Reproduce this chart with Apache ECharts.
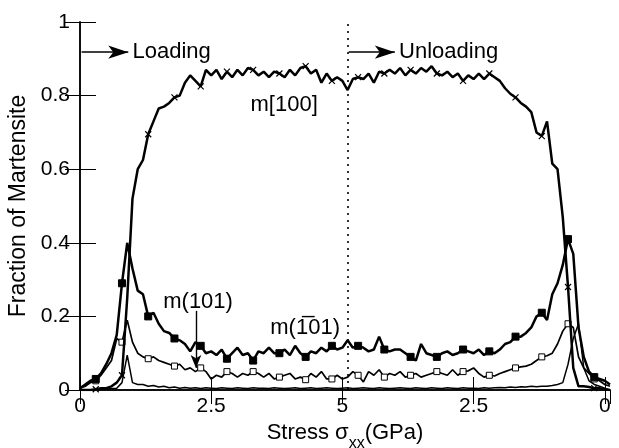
<!DOCTYPE html>
<html>
<head>
<meta charset="utf-8">
<script src="https://cdn.jsdelivr.net/npm/echarts@6/dist/echarts.min.js"></script>
<style>html,body{margin:0;padding:0;background:#fff}#c{width:619px;height:448px}</style>
</head>
<body>
<div id="c"></div>
<script>
// Stress axis: 0..5.1 loading, then 5.1..10.1 = unloading (5.1 -> 0 GPa)
const stress = [0.0,0.1,0.2,0.3,0.4,0.5,0.6,0.7,0.8,0.9,1.0,1.1,1.2,1.3,1.4,1.5,1.6,1.7,1.8,1.9,2.0,2.1,2.2,2.3,2.4,2.5,2.6,2.7,2.8,2.9,3.0,3.1,3.2,3.3,3.4,3.5,3.6,3.7,3.8,3.9,4.0,4.1,4.2,4.3,4.4,4.5,4.6,4.7,4.8,4.9,5.0,5.1,5.2,5.3,5.4,5.5,5.6,5.7,5.8,5.9,6.0,6.1,6.2,6.3,6.4,6.5,6.6,6.7,6.8,6.9,7.0,7.1,7.2,7.3,7.4,7.5,7.6,7.7,7.8,7.9,8.0,8.1,8.2,8.3,8.4,8.5,8.6,8.7,8.8,8.9,9.0,9.1,9.2,9.3,9.4,9.5,9.6,9.7,9.8,9.9,10.0,10.1];

const m100 = [0,0,0,0.002,0.005,0.005,0.01,0.02,0.04,0.25,0.52,0.6,0.625,0.695,0.73,0.765,0.77,0.78,0.795,0.8,0.835,0.855,0.84,0.825,0.87,0.855,0.87,0.845,0.865,0.85,0.87,0.855,0.875,0.87,0.855,0.865,0.85,0.865,0.86,0.85,0.87,0.855,0.875,0.88,0.86,0.87,0.835,0.86,0.84,0.85,0.84,0.815,0.845,0.85,0.845,0.86,0.835,0.865,0.86,0.87,0.86,0.875,0.855,0.87,0.86,0.875,0.865,0.88,0.86,0.855,0.865,0.85,0.86,0.84,0.855,0.845,0.86,0.845,0.86,0.85,0.84,0.82,0.805,0.795,0.78,0.77,0.755,0.7,0.69,0.73,0.615,0.6,0.47,0.28,0.06,0.01,0.01,0.008,0.005,0.005,0.002,0];

const mBar101 = [0.005,0.015,0.025,0.03,0.045,0.07,0.1,0.15,0.29,0.4,0.33,0.27,0.26,0.2,0.21,0.18,0.16,0.155,0.14,0.135,0.125,0.105,0.13,0.12,0.1,0.105,0.095,0.11,0.085,0.1,0.115,0.095,0.1,0.08,0.105,0.1,0.115,0.1,0.1,0.11,0.095,0.12,0.1,0.09,0.105,0.1,0.115,0.105,0.12,0.11,0.115,0.135,0.115,0.12,0.115,0.105,0.11,0.145,0.11,0.105,0.11,0.11,0.1,0.09,0.08,0.125,0.1,0.095,0.09,0.1,0.105,0.095,0.1,0.11,0.105,0.1,0.11,0.095,0.105,0.1,0.11,0.125,0.13,0.145,0.145,0.155,0.17,0.2,0.21,0.19,0.26,0.29,0.34,0.41,0.37,0.17,0.09,0.05,0.035,0.03,0.025,0.015];

const m101 = [0.005,0.01,0.02,0.025,0.04,0.06,0.08,0.14,0.13,0.19,0.13,0.1,0.09,0.085,0.09,0.08,0.075,0.07,0.065,0.07,0.055,0.06,0.05,0.06,0.05,0.03,0.04,0.035,0.05,0.045,0.035,0.045,0.04,0.05,0.045,0.035,0.045,0.03,0.035,0.04,0.045,0.03,0.035,0.028,0.045,0.035,0.05,0.03,0.03,0.04,0.03,0.035,0.05,0.04,0.022,0.05,0.04,0.055,0.035,0.045,0.04,0.05,0.035,0.04,0.045,0.035,0.04,0.045,0.05,0.045,0.04,0.055,0.04,0.05,0.052,0.06,0.045,0.035,0.04,0.038,0.045,0.05,0.055,0.06,0.063,0.065,0.07,0.08,0.09,0.093,0.1,0.125,0.16,0.18,0.17,0.09,0.06,0.045,0.03,0.025,0.015,0.01];

const mOther = [0,0,0,0,0.002,0.003,0.004,0.005,0.02,0.095,0.02,0.015,0.015,0.01,0.012,0.008,0.01,0.006,0.008,0.005,0.007,0.005,0.006,0.004,0.006,0.005,0.004,0.006,0.005,0.004,0.006,0.005,0.004,0.006,0.005,0.005,0.004,0.006,0.005,0.004,0.005,0.006,0.004,0.005,0.006,0.004,0.005,0.006,0.005,0.004,0.005,0.006,0.004,0.005,0.006,0.005,0.004,0.006,0.005,0.004,0.005,0.006,0.005,0.004,0.006,0.005,0.004,0.006,0.005,0.004,0.006,0.005,0.004,0.006,0.005,0.005,0.004,0.006,0.005,0.006,0.007,0.006,0.008,0.007,0.009,0.008,0.01,0.009,0.01,0.01,0.012,0.015,0.02,0.07,0.14,0.18,0.06,0.025,0.015,0.01,0.005,0];

// marker every 5th sample
const markerIdx = [3,8,13,18,23,28,33,38,43,48,53,58,63,68,73,78,83,88,93,98];

const xTicks = [0, 2.5, 5, 7.5, 10];
const xTickText = ['0', '2.5', '5', '2.5', '0'];
const yTicks = [0, 0.2, 0.4, 0.6, 0.8, 1];
const yTickText = ['0', '0.2', '0.4', '0.6', '0.8', '1'];

const FONT = 'Liberation Sans, Arial, Helvetica, sans-serif';
const pairs = ys => stress.map((x, i) => [x, ys[i]]);
const symFn = sym => (v, p) => markerIdx.indexOf(p.dataIndex) >= 0 ? sym : 'none';

const chart = echarts.init(document.getElementById('c'), null, {renderer: 'canvas'});
const txt = (x, y, s, align) => ({
  coord: [x, y], symbol: 'rect', symbolSize: 1, itemStyle: {color: 'rgba(0,0,0,0)'},
  label: {show: true, position: 'inside', formatter: s, color: '#000', fontSize: 22, fontFamily: FONT, align: align || 'center', verticalAlign: 'middle'}
});

chart.setOption({
  animation: false,
  backgroundColor: '#fff',
  grid: {left: 80, right: 9, top: 22, bottom: 58, containLabel: false, outerBoundsMode: 'none'},
  xAxis: [{
    type: 'value', min: 0, max: 10.1, interval: 2.5,
    position: 'bottom',
    axisLine: {show: true, lineStyle: {color: '#000', width: 1.5}},
    axisTick: {show: true, inside: true, length: 13, lineStyle: {color: '#000', width: 1}},
    axisLabel: {margin: 6, fontSize: 21, color: '#000', fontFamily: FONT, showMaxLabel: false,
      formatter: v => { const k = xTicks.indexOf(v); return k >= 0 ? xTickText[k] : ''; }},
    splitLine: {show: false},
    name: '{a|Stress σ}{b|xx}{a|(GPa)}',
    nameLocation: 'middle', nameGap: 27,
    nameTextStyle: {color: '#000', fontFamily: FONT, rich: {
      a: {fontSize: 22, fontFamily: FONT, color: '#000', lineHeight: 23, verticalAlign: 'top'},
      b: {fontSize: 16, fontFamily: FONT, color: '#000', lineHeight: 16, verticalAlign: 'top', padding: [14, 0, 0, 0]}
    }}
  }, {
    type: 'value', min: 0, max: 10.1, interval: 2.5, position: 'top',
    axisLine: {show: true, lineStyle: {color: '#000', width: 1.5}},
    axisTick: {show: true, inside: true, length: 14, lineStyle: {color: '#000', width: 1}},
    axisLabel: {show: false}, splitLine: {show: false}
  }],
  yAxis: [{
    type: 'value', min: 0, max: 1, interval: 0.2, position: 'left',
    axisLine: {show: true, lineStyle: {color: '#000', width: 1.5}},
    axisTick: {show: true, inside: true, length: 16, lineStyle: {color: '#000', width: 1}},
    axisLabel: {margin: 10, fontSize: 21, color: '#000', fontFamily: FONT,
      formatter: v => { const k = yTicks.findIndex(t => Math.abs(t - v) < 1e-9); return k >= 0 ? yTickText[k] : ''; }},
    splitLine: {show: false},
    name: 'Fraction of Martensite', nameLocation: 'middle', nameGap: 49,
    nameTextStyle: {fontSize: 23, color: '#000', fontFamily: FONT}
  }, {
    type: 'value', min: 0, max: 1, interval: 0.2, position: 'right',
    axisLine: {show: true, lineStyle: {color: '#000', width: 1.5}},
    axisTick: {show: true, inside: true, length: 15, lineStyle: {color: '#000', width: 1}},
    axisLabel: {show: false}, splitLine: {show: false}
  }],
  series: [
    {
      name: 'other', type: 'line', data: pairs(mOther), symbol: 'none', z: 2,
      lineStyle: {color: '#000', width: 1.5}
    },
    {
      name: 'm(101)', type: 'line', data: pairs(m101), z: 3,
      showAllSymbol: true, symbol: symFn('rect'), symbolSize: 6,
      itemStyle: {color: '#fff', borderColor: '#000', borderWidth: 1},
      lineStyle: {color: '#000', width: 1.7}
    },
    {
      name: 'm(-101)', type: 'line', data: pairs(mBar101), z: 4,
      showAllSymbol: true, symbol: symFn('rect'), symbolSize: 7,
      itemStyle: {color: '#000', borderColor: '#000', borderWidth: 1},
      lineStyle: {color: '#000', width: 2.5}
    },
    {
      name: 'm[100]', type: 'line', data: pairs(m100), z: 5,
      showAllSymbol: true, symbol: symFn('path://M0,0L10,10M10,0L0,10'), symbolSize: 6,
      itemStyle: {color: 'rgba(0,0,0,0)', borderColor: '#000', borderWidth: 1.2},
      lineStyle: {color: '#000', width: 2.5},
      markLine: {
        silent: true, symbol: ['none', 'none'], animation: false,
        label: {show: false},
        data: [
          [{xAxis: 5.1, yAxis: 0, lineStyle: {type: [2, 5], width: 1.6, color: '#000'}}, {xAxis: 5.1, yAxis: 1}],
          [{coord: [0.03, 0.918], symbol: 'none', lineStyle: {type: 'solid', width: 1.6, color: '#000'}},
           {coord: [0.92, 0.918], symbol: 'arrow', symbolSize: [10, 20]}],
          [{coord: [5.12, 0.918], symbol: 'none', lineStyle: {type: 'solid', width: 1.6, color: '#000'}},
           {coord: [6.0, 0.918], symbol: 'arrow', symbolSize: [10, 20]}],
          [{coord: [2.21, 0.215], symbol: 'none', lineStyle: {type: 'solid', width: 1.4, color: '#000'}},
           {coord: [2.21, 0.06], symbol: 'arrow', symbolSize: [8, 13]}]
        ]
      },
      markPoint: {
        silent: true, animation: false,
        data: [
          txt(1.0, 0.918, 'Loading', 'left'),
          txt(6.08, 0.918, 'Unloading', 'left'),
          txt(3.89, 0.775, 'm[100]'),
          txt(2.25, 0.238, 'm(101)'),
          txt(4.29, 0.168, 'm(1\u030501)')
        ]
      }
    }
  ]
});
</script>
</body>
</html>
